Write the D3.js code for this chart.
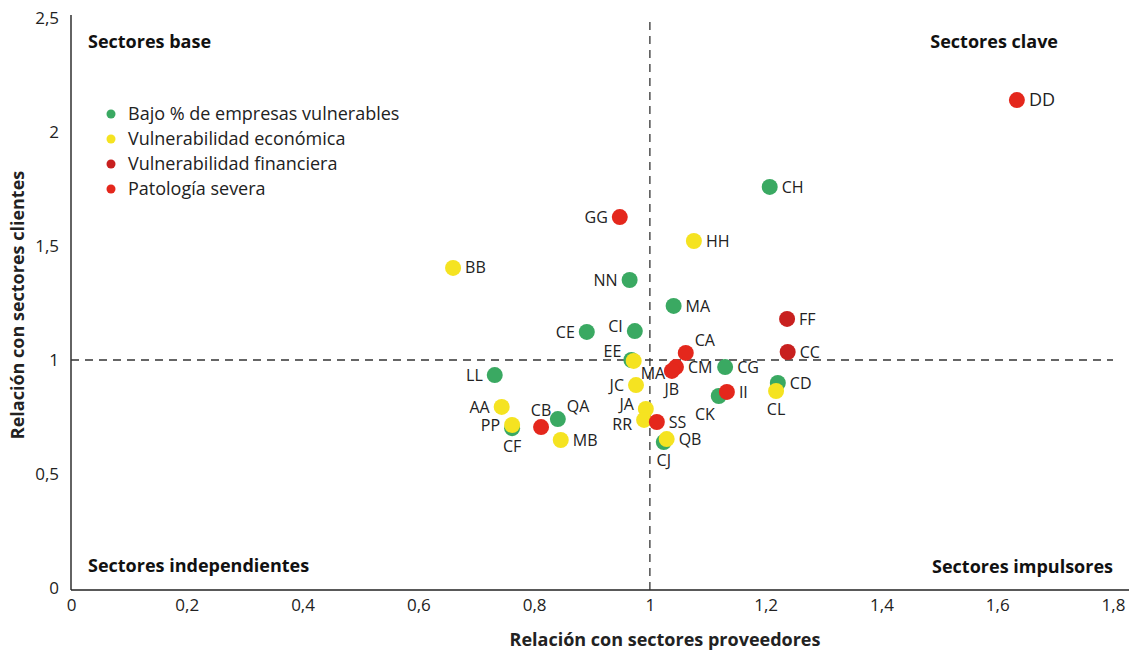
<!DOCTYPE html>
<html><head><meta charset="utf-8">
<script src="https://cdn.jsdelivr.net/npm/d3@7"></script>
<style>
body{margin:0;background:#fff;font-family:"Open Sans",sans-serif;}
</style></head>
<body><svg id="c" width="1129" height="651"></svg>
<script>
// ---- data ----
const seriesNames = ["Bajo % de empresas vulnerables","Vulnerabilidad económica","Vulnerabilidad financiera","Patología severa"];
const seriesColors = ["#3aa962","#f5e321","#c8201f","#e4271c"];

const greenLabels = ["CH","NN","MA","CE","CI","EE","CG","CD","CK","LL","CJ","CF","QA"];
const greenX      = [1.207,0.965,1.041,0.891,0.974,0.968,1.130,1.221,1.119,0.732,1.024,0.762,0.841];
const greenY      = [1.759,1.351,1.237,1.123,1.127,1.000,0.969,0.899,0.842,0.934,0.640,0.701,0.741];
const greenPos    = ["r","l","r","l","lu","tl","r","r","bl","l","b","b","tr"];

const yellowLabels = ["HH","BB","MA","JC","JA","RR","QB","AA","PP","MB","CL"];
const yellowX      = [1.076,0.660,0.972,0.976,0.993,0.990,1.029,0.744,0.762,0.846,1.218];
const yellowY      = [1.522,1.404,0.996,0.890,0.785,0.737,0.653,0.794,0.715,0.649,0.864];
const yellowPos    = ["r","r","br","l","lu","ld","r","l","l","r","b"];

const darkRedLabels = ["FF","CC"];
const darkRedX      = [1.237,1.238];
const darkRedY      = [1.180,1.035];
const darkRedPos    = ["r","r"];

const redLabels = ["DD","GG","CA","CM","JB","SS","CB","II"];
const redX      = [1.634,0.948,1.062,1.045,1.038,1.012,0.812,1.133];
const redY      = [2.140,1.627,1.031,0.969,0.952,0.728,0.706,0.860];
const redPos    = ["r","l","tr","r","b","r","t","r"];

const xTicks = [0,0.2,0.4,0.6,0.8,1,1.2,1.4,1.6,1.8];
const yTicks = [0,0.5,1,1.5,2,2.5];
const quadrantLabels = ["Sectores base","Sectores clave","Sectores independientes","Sectores impulsores"];
const xTitle = "Relación con sectores proveedores";
const yTitle = "Relación con sectores clientes";

// ---- build ----
const groups = [
  {labels:greenLabels,x:greenX,y:greenY,pos:greenPos,s:0},
  {labels:yellowLabels,x:yellowX,y:yellowY,pos:yellowPos,s:1},
  {labels:darkRedLabels,x:darkRedX,y:darkRedY,pos:darkRedPos,s:2},
  {labels:redLabels,x:redX,y:redY,pos:redPos,s:3}
];
const points = [];
groups.forEach(g=>g.labels.forEach((l,i)=>points.push({label:l,x:g.x[i],y:g.y[i],pos:g.pos[i],s:g.s})));

const svg = d3.select("#c");
const x = d3.scaleLinear().domain([0,1.8]).range([71,1113]);
const y = d3.scaleLinear().domain([0,2.5]).range([588,18]);
const fmt = d => String(d).replace(".",",");

// axes
const xAxis = svg.append("g").attr("transform",`translate(0,${y(0)+2})`)
  .call(d3.axisBottom(x).tickValues(xTicks).tickFormat(fmt).tickSize(0).tickPadding(9));
xAxis.select(".domain").remove();
xAxis.selectAll("text").attr("font-size",17).attr("fill","#222").attr("font-family","Open Sans");
svg.append("line").attr("x1",x(0)).attr("x2",1129).attr("y1",y(0)+2).attr("y2",y(0)+2).attr("stroke","#222").attr("stroke-width",1.4);

const yAxis = svg.append("g").attr("transform",`translate(${x(0)},0)`)
  .call(d3.axisLeft(y).tickValues(yTicks).tickFormat(fmt).tickSize(0).tickPadding(12));
yAxis.select(".domain").remove();
yAxis.selectAll("text").attr("font-size",17).attr("fill","#222").attr("font-family","Open Sans");
svg.append("line").attr("x1",x(0)).attr("x2",x(0)).attr("y1",15).attr("y2",y(0)+2).attr("stroke","#222").attr("stroke-width",1.4);

// dashed reference lines
svg.append("line").attr("x1",x(0)).attr("x2",x(1.8)).attr("y1",y(1)).attr("y2",y(1))
  .attr("stroke","#333").attr("stroke-width",1.3).attr("stroke-dasharray","8,6");
svg.append("line").attr("x1",x(1)).attr("x2",x(1)).attr("y1",22).attr("y2",y(0)+2)
  .attr("stroke","#333").attr("stroke-width",1.3).attr("stroke-dasharray","8,6");

// axis titles
svg.append("text").attr("x",665).attr("y",646).attr("text-anchor","middle")
  .attr("font-size",18).attr("font-weight","bold").attr("fill","#222").text(xTitle);
svg.append("text").attr("transform",`translate(24,${(y(0)+y(2.5))/2+2}) rotate(-90)`).attr("text-anchor","middle")
  .attr("font-size",18).attr("font-weight","bold").attr("fill","#222").text(yTitle);

// quadrant labels
const qpos = [[88,48,"start"],[1058,48,"end"],[88,572,"start"],[1113,573,"end"]];
quadrantLabels.forEach((t,i)=>svg.append("text").attr("x",qpos[i][0]).attr("y",qpos[i][1])
  .attr("text-anchor",qpos[i][2]).attr("font-size",18).attr("font-weight","bold").attr("fill","#111").text(t));

// legend
const leg = svg.append("g");
seriesNames.forEach((n,i)=>{
  leg.append("circle").attr("cx",111).attr("cy",114+i*25).attr("r",4.5).attr("fill",seriesColors[i]);
  leg.append("text").attr("x",128).attr("y",114+i*25).attr("dy","0.35em").attr("font-size",18).attr("fill","#222").text(n);
});

// points
svg.append("g").selectAll("circle").data(points).join("circle")
  .attr("cx",d=>x(d.x)).attr("cy",d=>y(d.y)).attr("r",8).attr("fill",d=>seriesColors[d.s]);

// labels
const off = {r:[12,0,"start"],l:[-12,0,"end"],lu:[-12,-5,"end"],ld:[-12,4,"end"],t:[0,-17,"middle"],b:[0,18,"middle"],
  tr:[9,-13,"start"],tl:[-10,-9,"end"],br:[7,12,"start"],bl:[-4,18,"end"]};
svg.append("g").selectAll("text").data(points).join("text")
  .attr("x",d=>x(d.x)+off[d.pos][0]).attr("y",d=>y(d.y)+off[d.pos][1]).attr("dy","0.35em")
  .attr("text-anchor",d=>off[d.pos][2]).attr("font-size",d=>d.label==="DD"?18:16).attr("fill","#222")
  .text(d=>d.label);
</script></body></html>
